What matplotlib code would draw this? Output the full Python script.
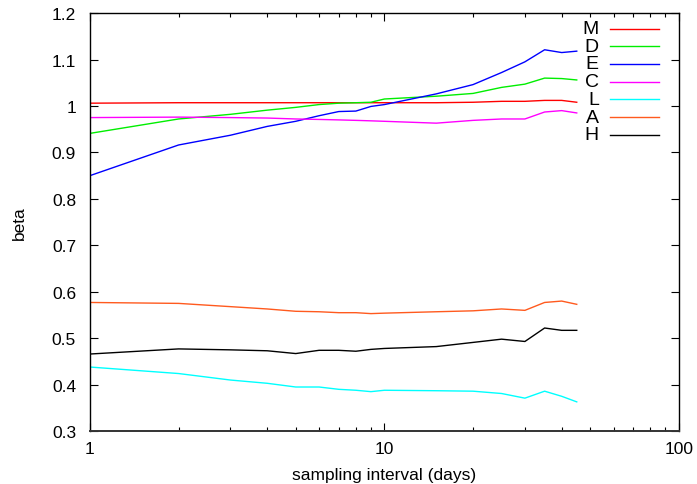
import matplotlib
matplotlib.use("Agg")
import matplotlib.pyplot as plt
from matplotlib.ticker import LogLocator, FixedLocator, NullFormatter, FuncFormatter

plt.rcParams["font.family"] = ["Liberation Sans", "DejaVu Sans"]
plt.rcParams["font.size"] = 12.5

# sampling interval (days)
interval = [1, 2, 3, 4, 5, 6, 7, 8, 9, 10, 15, 20, 25, 30, 35, 40, 45]

beta_m = [1.006, 1.007, 1.007, 1.007, 1.007, 1.007, 1.007, 1.007, 1.007, 1.007,
          1.007, 1.008, 1.010, 1.010, 1.012, 1.012, 1.008]
beta_d = [0.941, 0.972, 0.982, 0.991, 0.997, 1.003, 1.006, 1.007, 1.008, 1.015,
          1.021, 1.027, 1.040, 1.047, 1.060, 1.059, 1.056]
beta_e = [0.850, 0.916, 0.937, 0.956, 0.967, 0.979, 0.988, 0.989, 0.999, 1.003,
          1.026, 1.046, 1.072, 1.095, 1.121, 1.115, 1.118]
beta_c = [0.975, 0.976, 0.975, 0.974, 0.972, 0.971, 0.970, 0.969, 0.968, 0.967,
          0.963, 0.969, 0.972, 0.972, 0.987, 0.990, 0.985]
beta_l = [0.438, 0.424, 0.410, 0.403, 0.395, 0.395, 0.390, 0.388, 0.385, 0.388,
          0.387, 0.386, 0.381, 0.371, 0.386, 0.375, 0.363]
beta_a = [0.577, 0.575, 0.568, 0.563, 0.558, 0.557, 0.555, 0.555, 0.553, 0.554,
          0.557, 0.559, 0.563, 0.560, 0.577, 0.580, 0.573]
beta_h = [0.466, 0.477, 0.475, 0.473, 0.467, 0.474, 0.474, 0.472, 0.476, 0.478,
          0.482, 0.491, 0.498, 0.493, 0.522, 0.517, 0.517]

labels = ["M", "D", "E", "C", "L", "A", "H"]
colors = ["#ff0000", "#00ee00", "#0000ff", "#ff00ff", "#00ffff", "#ff5a1e", "#000000"]
series = [beta_m, beta_d, beta_e, beta_c, beta_l, beta_a, beta_h]

fig = plt.figure(figsize=(6.97, 4.85), dpi=100)
ax = fig.add_axes([0.129, 0.109, 0.845, 0.862])

for name, col, vals in zip(labels, colors, series):
    ax.plot(interval, vals, color=col, lw=1.0)

ax.set_xscale("log")
ax.set_xlim(1, 100)
ax.set_ylim(0.3, 1.2)

ax.xaxis.set_major_locator(FixedLocator([1, 10, 100]))
ax.xaxis.set_minor_locator(LogLocator(base=10, subs=range(2, 10)))
ax.xaxis.set_minor_formatter(NullFormatter())
ax.xaxis.set_major_formatter(FuncFormatter(lambda v, p: "%g" % v))
ax.yaxis.set_major_locator(FixedLocator([0.3 + 0.1 * i for i in range(10)]))
ax.yaxis.set_major_formatter(FuncFormatter(lambda v, p: "%g" % round(v, 1)))

ax.tick_params(which="both", direction="in", top=True, right=True, width=0.8)
ax.tick_params(which="major", length=6)
ax.tick_params(axis="y", which="major", pad=10)
ax.tick_params(axis="x", which="major", pad=7)
ax.tick_params(which="minor", length=3)
for s in ax.spines.values():
    s.set_linewidth(1.0)
ax.spines["bottom"].set_linewidth(1.4)
ax.spines["bottom"].set_color("#333333")

ax.set_xlabel("sampling interval (days)", labelpad=8)
ax.set_ylabel("beta", labelpad=18)

# gnuplot style key, top right
for i, (name, col) in enumerate(zip(labels, colors)):
    yk = 0.963 - i * 0.0424
    ax.text(0.864, yk, name, transform=ax.transAxes, ha="right", va="center",
            fontsize=14)
    ax.plot([0.883, 0.966], [yk, yk], transform=ax.transAxes, color=col, lw=1.0)

fig.savefig("out.png", dpi=100)
